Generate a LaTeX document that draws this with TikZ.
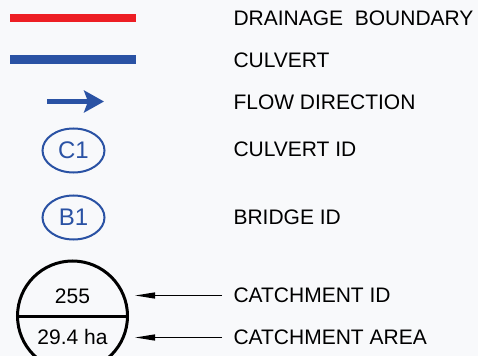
\documentclass[tikz,border=0pt]{standalone}
\usepackage{fontspec}
\setmainfont{Liberation Sans}
\usetikzlibrary{shapes.geometric,arrows.meta}

\definecolor{bgpaper}{RGB}{248,249,251}
\definecolor{drainred}{RGB}{237,30,36}
\definecolor{culvblue}{RGB}{42,82,164}

\tikzset{every picture/.style={line width=0.75pt}}
\tikzset{
  legtext/.style={anchor=west, inner sep=0pt, font=\fontsize{15.75}{18}\selectfont},
  idoval/.style={draw=culvblue, ellipse, line width=1.5pt, minimum width=46.5pt, minimum height=33pt, inner sep=0pt, text=culvblue, font=\fontsize{18}{20}\selectfont},
  catchtext/.style={inner sep=0pt, font=\fontsize{15.75}{18}\selectfont},
  pointer/.style={line width=1pt, -{Triangle[length=15pt,width=4.5pt]}}
}

\begin{document}
\begin{tikzpicture}[x=0.75pt,y=0.75pt,yscale=-1,xscale=1]
        \fill [bgpaper] (0,0) rectangle (478,356);
        \useasboundingbox (0,0) rectangle (478,356);
        \clip (0,0) rectangle (478,356);

        %Straight Lines [drainage boundary]
        \draw [color=drainred, line width=6pt] (10,18) -- (136,18) ;
        %Straight Lines [culvert]
        \draw [color=culvblue, line width=6.75pt] (10,59.5) -- (136,59.5) ;
        %Straight Lines [flow direction]
        \draw [color=culvblue, line width=3.75pt, -{Stealth[length=15pt,width=16.5pt,inset=3pt]}] (47,101.5) -- (104,101.5) ;

        %Shape: Ellipse
        \draw (73.5,150.5) node [idoval] (c1) {C1};
        %Shape: Ellipse
        \draw (73.5,217.5) node [idoval] (b1) {B1};

        %Shape: Circle
        \draw [line width=2.25pt] (72.5,316) circle (55) ;
        %Straight Lines
        \draw [line width=2.25pt] (17.5,316) -- (127.5,316) ;
        % Text Node
        \draw (72.5,296.5) node [catchtext] (catnum) {255};
        % Text Node
        \draw (72.5,337) node [catchtext] (catarea) {29.4 ha};

        % Text Node
        \draw (233,18.3) node [legtext] (lbdrain) {DRAINAGE\ \ BOUNDARY};
        % Text Node
        \draw (233,60.2) node [legtext] (lbculv) {CULVERT};
        % Text Node
        \draw (233,102) node [legtext] (lbflow) {FLOW DIRECTION};
        % Text Node
        \draw (233,149) node [legtext] (lbculvid) {CULVERT ID};
        % Text Node
        \draw (233,217.5) node [legtext] (lbbridge) {BRIDGE ID};
        % Text Node
        \draw (233,295.5) node [legtext] (lbcatid) {CATCHMENT ID};
        % Text Node
        \draw (233,337.5) node [legtext] (lbcatarea) {CATCHMENT AREA};

        \coordinate (idtip) at (135,295.5);
        \coordinate (areatip) at (135,337.5);
        %Straight Lines
        \draw [pointer, shorten <=8.25pt] (lbcatid.west) -- (idtip) ;
        %Straight Lines
        \draw [pointer, shorten <=8.25pt] (lbcatarea.west) -- (areatip) ;

    \end{tikzpicture}
\end{document}
